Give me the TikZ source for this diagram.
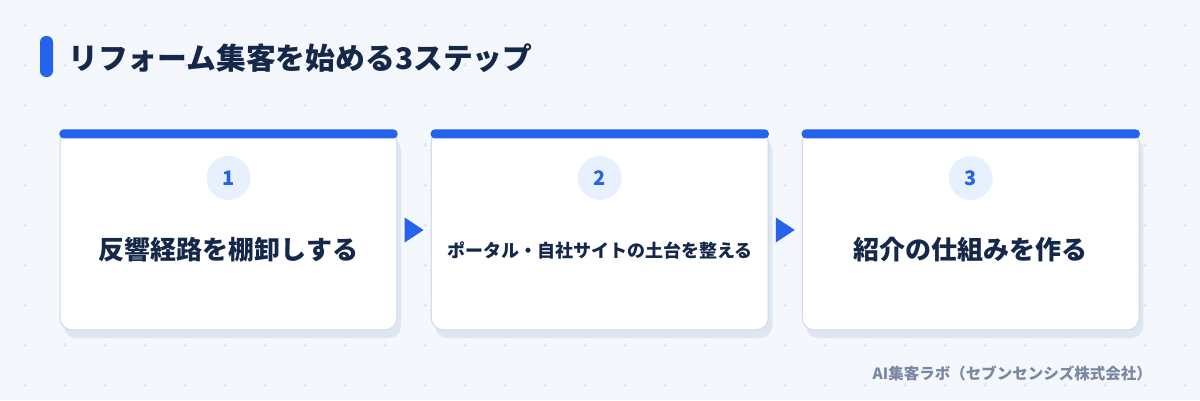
\documentclass[tikz,border=0pt]{standalone}
\usepackage{fontspec}
\setmainfont{Noto Sans CJK JP}
\usetikzlibrary{shadows,calc}
\definecolor{bgcol}{HTML}{F4F7FC}
\definecolor{dotcol}{HTML}{D9E1EE}
\definecolor{accent}{HTML}{2563EB}
\definecolor{navy}{HTML}{15284A}
\definecolor{cardline}{HTML}{D2DDEC}
\definecolor{shadowcol}{HTML}{DEE6F2}
\definecolor{circfill}{HTML}{E7F0FD}
\definecolor{footcol}{HTML}{7A88A2}
\begin{document}
\begin{tikzpicture}[x=1pt,y=-1pt,
  card/.style={rectangle, rounded corners=12pt, fill=white, draw=cardline,
    line width=1.2pt, minimum width=337pt, minimum height=200pt, inner sep=0pt,
    drop shadow={shadow xshift=4pt, shadow yshift=-8pt, fill=shadowcol, opacity=1}},
  topbar/.style={fill=accent, rounded corners=4pt},
  numcirc/.style={circle, fill=circfill, minimum size=44pt, inner sep=0pt,
    text=accent, font=\bfseries\fontsize{20}{22}\selectfont},
  maintext/.style={text=navy, inner sep=0pt, font=\bfseries\fontsize{26}{28}\selectfont},
  smalltext/.style={text=navy, inner sep=0pt, font=\bfseries\fontsize{18}{20}\selectfont},
  steparrow/.style={fill=accent},
  dotmark/.style={draw=dotcol, line width=0.8pt}]
  \useasboundingbox (0,0) rectangle (1200,400);
  \fill[bgcol] (0,0) rectangle (1200,400);
  \foreach \i in {0,...,29}{
    \foreach \j in {0,...,9}{
      \draw[dotmark] ({25+40*\i-1.6},{25+40*\j}) -- ++(3.2,0)
                     ({25+40*\i},{25+40*\j-1.6}) -- ++(0,3.2);
    }
  }
  % title
  \node[fill=accent, rounded corners=6pt, minimum width=13pt, minimum height=41pt, inner sep=0pt] (tbar) at (46.5,56.5) {};
  \node[anchor=west, text=navy, inner sep=0pt, font=\bfseries\fontsize{29.8}{31}\selectfont] (title) at (68,58) {リフォーム集客を始める3ステップ};
  % cards
  \node[card] (c1) at (228.5,230) {};
  \node[card] (c2) at (599.75,230) {};
  \node[card] (c3) at (970.75,230) {};
  \foreach \c in {c1,c2,c3}{
    \fill[topbar] (\c.north west) rectangle ([yshift=-9pt]\c.north east);
  }
  \node[numcirc] (n1) at ([yshift=-48.5pt]c1.north) {1};
  \node[numcirc] (n2) at ([yshift=-48.5pt]c2.north) {2};
  \node[numcirc] (n3) at ([yshift=-48.5pt]c3.north) {3};
  \node[maintext] (t1) at ([yshift=-20pt]c1.center) {反響経路を棚卸しする};
  \node[smalltext] (t2) at ([yshift=-20pt]c2.center) {ポータル・自社サイトの土台を整える};
  \node[maintext] (t3) at ([yshift=-20pt]c3.center) {紹介の仕組みを作る};
  % arrows
  \path (c1.east) -- coordinate[midway] (m1) (c2.west);
  \path (c2.east) -- coordinate[midway] (m2) (c3.west);
  \foreach \m in {m1,m2}{
    \fill[steparrow] ([shift={(-9.5,-12.5)}]\m) -- ([shift={(9.5,0)}]\m) -- ([shift={(-9.5,12.5)}]\m) -- cycle;
  }
  % footer
  \node[anchor=east, text=footcol, inner sep=0pt, font=\bfseries\fontsize{15.5}{17}\selectfont] (foot) at (1152,373) {AI集客ラボ（セブンセンシズ株式会社）};
\end{tikzpicture}
\end{document}
